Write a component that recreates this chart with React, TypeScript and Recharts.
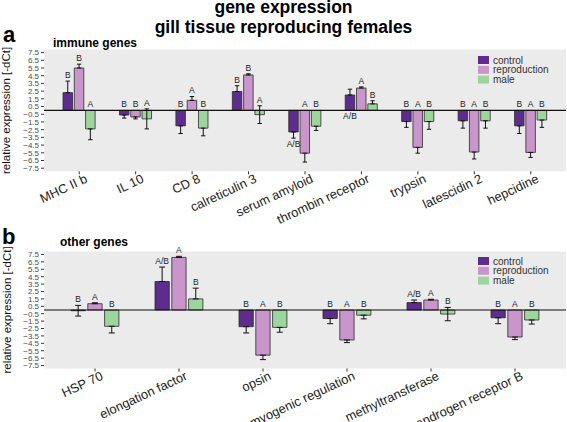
import React from 'react';
import { BarChart, Bar, XAxis, YAxis, CartesianGrid, ErrorBar, ReferenceLine, LabelList, Legend } from 'recharts';

// ---------- data: panel a (immune genes) ----------
const immuneGenes = ['MHC II b', 'IL 10', 'CD 8', 'calreticulin 3', 'serum amyloid', 'thrombin receptor', 'trypsin', 'latescidin 2', 'hepcidine'];
const immuneControl = [2.3, -0.6, -2.0, 2.45, -2.8, 2.0, -1.45, -1.35, -2.0];
const immuneControlErr = [1.5, 0.4, 1.0, 0.75, 0.8, 0.75, 0.75, 0.95, 1.0];
const immuneReproduction = [5.5, -0.85, 1.3, 4.6, -5.55, 2.9, -4.8, -5.4, -5.45];
const immuneReproductionErr = [0.5, 0.25, 0.5, 0.15, 1.15, 0.15, 0.75, 0.9, 0.65];
const immuneMale = [-2.4, -1.1, -2.3, -0.55, -2.05, 0.85, -1.45, -1.35, -1.25];
const immuneMaleErr = [1.4, 1.3, 1.0, 1.15, 0.55, 0.4, 1.0, 0.95, 0.95];
const immuneControlLetters = ['B', 'B', 'B', 'B', 'A/B', 'A/B', 'B', 'B', 'B'];
const immuneReproductionLetters = ['B', 'B', 'A', 'B', 'A', 'A', 'A', 'A', 'A'];
const immuneMaleLetters = ['A', 'A', 'B', 'A', 'B', 'B', 'B', 'B', 'B'];
const immuneControlLettersBelow = [4, 5];

// ---------- data: panel b (other genes) ----------
const otherGenes = ['HSP 70', 'elongation factor', 'opsin', 'myogenic regulation', 'methyltransferase', 'androgen receptor B'];
const otherControl = [-0.1, 3.85, -2.25, -1.15, 1.0, -1.05];
const otherControlErr = [0.72, 1.95, 0.85, 0.7, 0.35, 0.8];
const otherReproduction = [0.85, 7.1, -6.1, -4.05, 1.35, -3.65];
const otherReproductionErr = [0.13, 0.15, 0.6, 0.35, 0.1, 0.35];
const otherMale = [-2.2, 1.5, -2.35, -0.7, -0.55, -1.35];
const otherMaleErr = [0.9, 1.45, 0.65, 0.5, 0.9, 0.55];
const otherControlLetters = ['B', 'A/B', 'B', 'B', 'A/B', 'B'];
const otherReproductionLetters = ['A', 'A', 'A', 'A', 'A', 'A'];
const otherMaleLetters = ['B', 'B', 'B', 'B', 'B', 'B'];

const yTicks = [7.5, 6.5, 5.5, 4.5, 3.5, 2.5, 1.5, 0.5, -0.5, -1.5, -2.5, -3.5, -4.5, -5.5, -6.5, -7.5];
const seriesNames = ['control', 'reproduction', 'male'];

const COLORS: Record<string, string> = { control: '#5e2b8f', reproduction: '#c996cc', male: '#9ed49e' };
const FONT = '"Liberation Sans", Arial, Helvetica, sans-serif';

function whisker(v: number, e: number): [number, number] {
  if (e > Math.abs(v)) return [e, e];
  return v >= 0 ? [0, e] : [e, 0];
}

function buildRows(genes: string[], vals: number[][], errs: number[][], letters: string[][]) {
  return genes.map((gene, i) => {
    const row: any = { gene, idx: i };
    seriesNames.forEach((s, j) => {
      row[s] = vals[j][i];
      row[s + 'Err'] = errs[j][i];
      row[s + 'Whisker'] = whisker(vals[j][i], errs[j][i]);
      row[s + 'Letter'] = letters[j][i];
    });
    return row;
  });
}

const rowsA = buildRows(immuneGenes, [immuneControl, immuneReproduction, immuneMale], [immuneControlErr, immuneReproductionErr, immuneMaleErr], [immuneControlLetters, immuneReproductionLetters, immuneMaleLetters]);
const rowsB = buildRows(otherGenes, [otherControl, otherReproduction, otherMale], [otherControlErr, otherReproductionErr, otherMaleErr], [otherControlLetters, otherReproductionLetters, otherMaleLetters]);

const fmtTick = (v: number) => (v < 0 ? '\u2212' + Math.abs(v).toFixed(1) : v.toFixed(1));

const makeLetter = (rows: any[], key: string, below: number[], fs: number) => (p: any) => {
  const idx = Number(p.value);
  const row = rows[idx];
  if (!row) return null;
  const vb = p.viewBox || {};
  const x = Number(p.x ?? vb.x);
  const y = Number(p.y ?? vb.y);
  const w = Number(p.width ?? vb.width);
  const h = Number(p.height ?? vb.height);
  const v = row[key];
  const e = row[key + 'Err'];
  const top = Math.min(y, y + h);
  const bot = Math.max(y, y + h);
  const k = (bot - top) / Math.abs(v);
  const zeroY = v >= 0 ? bot : top;
  const cx = x + w / 2;
  let ty: number;
  if (below.includes(idx)) {
    const lowY = zeroY - Math.min(0, v - e) * k;
    ty = lowY + 2.5 + fs * 0.72;
  } else {
    const upY = zeroY - Math.max(0, v + e) * k;
    ty = upY - 3.2;
  }
  return (
    <text x={cx} y={ty} textAnchor="middle" fontSize={fs} fill="#222" fontFamily={FONT}>
      {row[key + 'Letter']}
    </text>
  );
};

const RotTick = (props: any) => {
  const { x, y, payload } = props;
  const ax = x + 9;
  const ay = y + 5.5;
  return (
    <text x={ax} y={ay} transform={`rotate(-25 ${ax} ${ay})`} textAnchor="end" fontSize={12.8} fill="#222" fontFamily={FONT}>
      {payload.value}
    </text>
  );
};

const LegendBox = () => (
  <svg width={85} height={30} style={{ display: 'block' }}>
    {seriesNames.map((s, i) => (
      <g key={s}>
        <rect x={0} y={i * 9.8} width={11} height={8} fill={COLORS[s]} />
        <text x={15} y={i * 9.8 + 7.6} fontSize={10} fill="#333" fontFamily={FONT}>{s}</text>
      </g>
    ))}
  </svg>
);

function Panel(props: { rows: any[]; height: number; top: number; xHeight: number; padding: number; barSize: number; barGap: number; below: number[]; legendTop: number; capW: number; }) {
  const { rows, height, top, xHeight, padding, barSize, barGap, below, legendTop, capW } = props;
  return (
    <BarChart width={567} height={height} data={rows} margin={{ top, right: 1, left: 0, bottom: 0 }} barSize={barSize} barGap={barGap}>
      <CartesianGrid fill="#ebebeb" stroke="none" />
      <XAxis dataKey="gene" interval={0} height={xHeight} padding={{ left: padding, right: padding }} axisLine={false}
        tickLine={{ stroke: '#333' }} tickSize={3} tickMargin={2} tick={<RotTick />} />
      <YAxis domain={[-7.9, 7.9]} ticks={yTicks} interval={0} width={44} axisLine={false} tickLine={{ stroke: '#333' }}
        tickSize={3} tickMargin={2} tickFormatter={fmtTick} tick={{ fontSize: 8, fill: '#4d4d4d', fontFamily: FONT }} />
      <Legend layout="vertical" align="center" verticalAlign="middle" content={<LegendBox />}
        wrapperStyle={{ position: 'absolute', left: 478, top: legendTop, width: 85, height: 30 }} />
      {seriesNames.map((s) => (
        <Bar key={s} dataKey={s} name={s} fill={COLORS[s]} stroke="#2b2b2b" strokeWidth={0.8} isAnimationActive={false}>
          <ErrorBar dataKey={s + 'Whisker'} width={capW} stroke="#111" strokeWidth={1} direction="y" />
          <LabelList dataKey="idx" content={makeLetter(rows, s, s === 'control' ? below : [], 8.5)} />
        </Bar>
      ))}
      <ReferenceLine y={0} stroke="#111" strokeWidth={1.1} />
    </BarChart>
  );
}

export default function App() {
  return (
    <div style={{ position: 'absolute', left: 0, top: 0, width: 567, height: 422, background: '#fff', overflow: 'hidden' }}>
      <div style={{ position: 'absolute', left: 0, top: 0 }}>
        <Panel rows={rowsA} height={232} top={49.5} xHeight={60.7} padding={7} barSize={9.5} barGap={1.8} below={immuneControlLettersBelow} legendTop={55.5} capW={2.2} />
      </div>
      <div style={{ position: 'absolute', left: 0, top: 0 }}>
        <Panel rows={rowsB} height={422} top={251.5} xHeight={53.5} padding={9} barSize={14.3} barGap={2.5} below={[]} legendTop={257.3} capW={3} />
      </div>
      <svg width={567} height={422} style={{ position: 'absolute', left: 0, top: 0, pointerEvents: 'none' }}>
        <g fontFamily={FONT} fill="#000">
          <text x={283.5} y={13.3} textAnchor="middle" fontSize={17.5} fontWeight="bold">gene expression</text>
          <text x={283.5} y={33.3} textAnchor="middle" fontSize={17.5} fontWeight="bold">gill tissue reproducing females</text>
          <text x={3} y={42} fontSize={22} fontWeight="bold">a</text>
          <text x={53} y={47} fontSize={12} fontWeight="bold">immune genes</text>
          <text x={2} y={243.5} fontSize={22} fontWeight="bold">b</text>
          <text x={60} y={245.5} fontSize={12} fontWeight="bold">other genes</text>
          <text x={10.5} y={110.4} transform="rotate(-90 10.5 110.4)" textAnchor="middle" fontSize={11.5} fill="#111">relative expression [-dCt]</text>
          <text x={10.5} y={310} transform="rotate(-90 10.5 310)" textAnchor="middle" fontSize={11.5} fill="#111">relative expression [-dCt]</text>
        </g>
      </svg>
    </div>
  );
}
